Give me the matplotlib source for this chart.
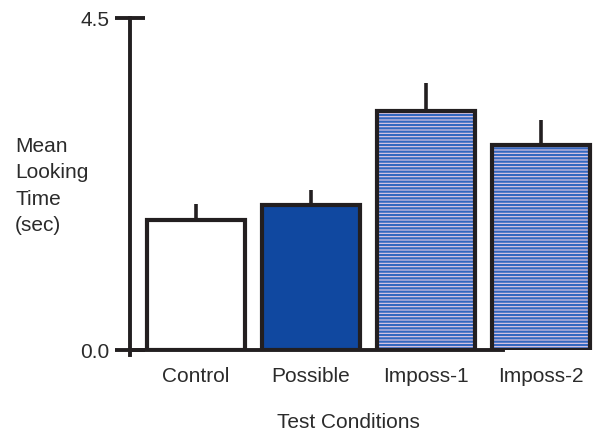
import matplotlib
matplotlib.use("Agg")
import matplotlib.pyplot as plt
import numpy as np

plt.rcParams["font.family"] = ["Liberation Sans", "DejaVu Sans"]
plt.rcParams["hatch.linewidth"] = 1.6

# data
conditions = ["Control", "Possible", "Imposs-1", "Imposs-2"]
mean_looking = [1.76, 1.96, 3.24, 2.78]
sem_looking = [0.22, 0.21, 0.38, 0.34]

ink = "#231f20"
text_ink = "#2b2b2b"
blue = "#1048a0"
stripe_blue = "#3468c0"
stripe_pink = "#e6cce4"

fig = plt.figure(figsize=(5.94, 4.32), dpi=100)
ax = fig.add_axes([130 / 594, (432 - 350) / 432, 464 / 594, 332 / 432])

x = np.arange(len(conditions))
w = 0.86
lw = 3.0

# plain bars
ax.bar(x[0], mean_looking[0], w, color="white", edgecolor=ink, linewidth=lw, zorder=3)
ax.bar(x[1], mean_looking[1], w, color=blue, edgecolor=ink, linewidth=lw, zorder=3)

# striped bars: stripes first, then the black outline on top
ax.bar(x[2:], mean_looking[2:], w, color=stripe_pink, edgecolor=stripe_blue,
       hatch="-----", linewidth=0, zorder=3)
ax.bar(x[2:], mean_looking[2:], w, fill=False, edgecolor=ink, linewidth=lw, zorder=4)

# error bars (upper half only)
for xi, m, s in zip(x, mean_looking, sem_looking):
    ax.plot([xi, xi], [m, m + s], color=ink, lw=2.6, solid_capstyle="butt", zorder=2)

ax.set_xlim(-0.574, 3.461)
ax.set_ylim(0, 4.5)

for side in ["top", "right"]:
    ax.spines[side].set_visible(False)
for side in ["left", "bottom"]:
    ax.spines[side].set_linewidth(2.8)
    ax.spines[side].set_color(ink)
ax.spines["left"].set_bounds(-0.07, 4.5)
ax.spines["bottom"].set_bounds(-0.574, 2.67)

ax.set_yticks([0, 4.5])
ax.set_yticklabels(["0.0", "4.5"], fontsize=15, color=text_ink)
ax.tick_params(axis="y", direction="inout", length=21, width=2.8, color=ink, pad=4)

ax.set_xticks(x)
ax.set_xticklabels(conditions, fontsize=15, color=text_ink)
ax.tick_params(axis="x", length=0, pad=12)

fig.text(348 / 594, 1 - 422 / 432, "Test Conditions", fontsize=15, color=text_ink,
         ha="center", va="center")
fig.text(15 / 594, 1 - 186 / 432, "Mean\nLooking\nTime\n(sec)", fontsize=15, color=text_ink,
         ha="left", va="center", linespacing=1.5)

fig.savefig("out.png", dpi=100)
